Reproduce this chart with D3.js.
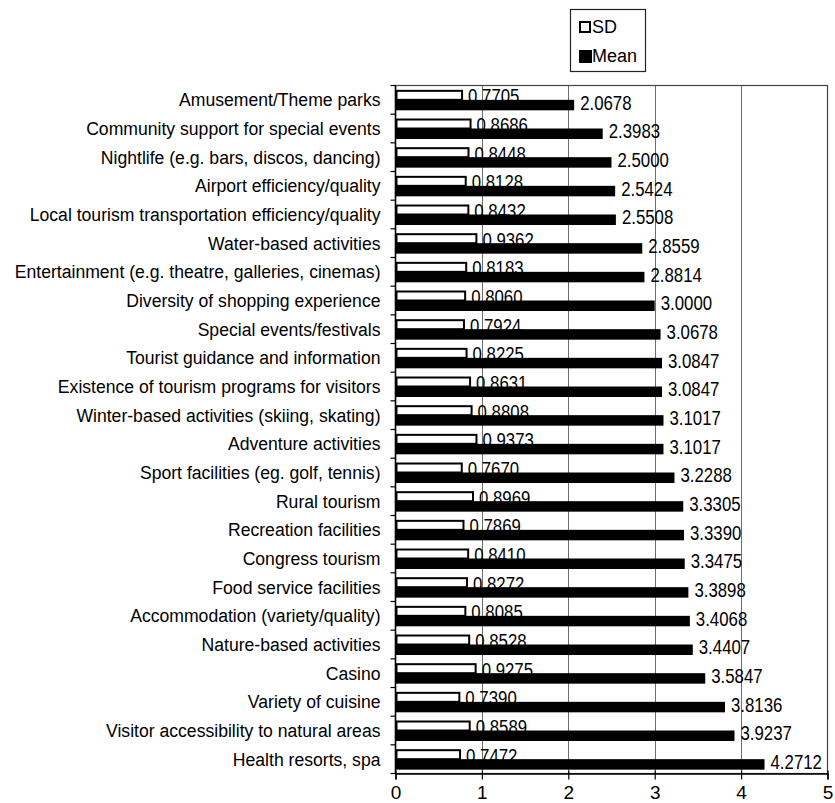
<!DOCTYPE html>
<html>
<head>
<meta charset="utf-8">
<script src="https://cdn.jsdelivr.net/npm/d3@7/dist/d3.min.js"></script>
<style>
  html, body { margin: 0; padding: 0; background: #fff; }
  svg { display: block; }
  text { font-family: "Liberation Sans", Arial, sans-serif; fill: #000; }
</style>
</head>
<body>
<svg id="chart" width="835" height="803"></svg>
<script>
// Destination attributes, top to bottom
const categories = [
  "Amusement/Theme parks",
  "Community support for special events",
  "Nightlife (e.g. bars, discos, dancing)",
  "Airport efficiency/quality",
  "Local tourism transportation efficiency/quality",
  "Water-based activities",
  "Entertainment (e.g. theatre, galleries, cinemas)",
  "Diversity of shopping experience",
  "Special events/festivals",
  "Tourist guidance and information",
  "Existence of tourism programs for visitors",
  "Winter-based activities (skiing, skating)",
  "Adventure activities",
  "Sport facilities (eg. golf, tennis)",
  "Rural tourism",
  "Recreation facilities",
  "Congress tourism",
  "Food service facilities",
  "Accommodation (variety/quality)",
  "Nature-based activities",
  "Casino",
  "Variety of cuisine",
  "Visitor accessibility to natural areas",
  "Health resorts, spa"
];

const sdValues = [
  0.7705, 0.8686, 0.8448, 0.8128, 0.8432, 0.9362, 0.8183, 0.8060,
  0.7924, 0.8225, 0.8631, 0.8808, 0.9373, 0.7670, 0.8969, 0.7869,
  0.8410, 0.8272, 0.8085, 0.8528, 0.9275, 0.7390, 0.8589, 0.7472
];

const meanValues = [
  2.0678, 2.3983, 2.5000, 2.5424, 2.5508, 2.8559, 2.8814, 3.0000,
  3.0678, 3.0847, 3.0847, 3.1017, 3.1017, 3.2288, 3.3305, 3.3390,
  3.3475, 3.3898, 3.4068, 3.4407, 3.5847, 3.8136, 3.9237, 4.2712
];

const xTicks = [0, 1, 2, 3, 4, 5];
const seriesNames = ["SD", "Mean"];

const rows = categories.map((c, i) => ({ cat: c, sd: sdValues[i], mean: meanValues[i] }));

const svg = d3.select("#chart");
const plot = { left: 395.5, right: 827.5, top: 85.5, bottom: 773.5 };

const x = d3.scaleLinear().domain([0, 5]).range([plot.left, plot.right]);
const y = d3.scaleBand().domain(categories).range([plot.top, plot.bottom]).padding(0);
const sub = d3.scaleBand().domain(["sd", "mean"]).range([0, y.bandwidth()])
  .paddingInner(0).paddingOuter(0.435);

// vertical gridlines
svg.append("g")
  .selectAll("line")
  .data(xTicks.slice(1, -1))
  .join("line")
  .attr("x1", d => Math.round(x(d)) + 0.5)
  .attr("x2", d => Math.round(x(d)) + 0.5)
  .attr("y1", plot.top)
  .attr("y2", plot.bottom)
  .attr("stroke", "#6e6e6e")
  .attr("stroke-width", 1);

// plot frame
svg.append("rect")
  .attr("x", plot.left)
  .attr("y", plot.top)
  .attr("width", plot.right - plot.left)
  .attr("height", plot.bottom - plot.top)
  .attr("fill", "none")
  .attr("stroke", "#444")
  .attr("stroke-width", 1.2);

const valueFmt = d3.format(".4f");
const narrow = "scale(0.82,1)";

// SD bars (outlined)
const g = svg.append("g");
g.selectAll("rect.sd")
  .data(rows)
  .join("rect")
  .attr("class", "sd")
  .attr("x", x(0) + 1)
  .attr("y", d => y(d.cat) + sub("sd") + 1)
  .attr("width", d => x(d.sd) - x(0) - 1)
  .attr("height", sub.bandwidth() - 1)
  .attr("fill", "#fff")
  .attr("stroke", "#000")
  .attr("stroke-width", 2);

// SD value labels (partly hidden beneath the mean bars)
g.selectAll("text.sdlab")
  .data(rows)
  .join("text")
  .attr("class", "sdlab")
  .attr("transform", d => `translate(${x(d.sd) + 6},${y(d.cat) + sub("mean") + 3.5}) ${narrow}`)
  .attr("font-size", 20.5)
  .text(d => valueFmt(d.sd));

// Mean bars (solid)
g.selectAll("rect.mean")
  .data(rows)
  .join("rect")
  .attr("class", "mean")
  .attr("x", x(0))
  .attr("y", d => y(d.cat) + sub("mean"))
  .attr("width", d => x(d.mean) - x(0))
  .attr("height", sub.bandwidth() + 0.5)
  .attr("fill", "#000");

// Mean value labels
g.selectAll("text.meanlab")
  .data(rows)
  .join("text")
  .attr("class", "meanlab")
  .attr("transform", d => `translate(${x(d.mean) + 6},${y(d.cat) + sub("mean") + sub.bandwidth()}) ${narrow}`)
  .attr("font-size", 20.5)
  .text(d => valueFmt(d.mean));

// category axis
const yAxis = svg.append("g")
  .attr("transform", `translate(${plot.left},0)`);
yAxis.append("line")
  .attr("x1", 0).attr("x2", 0)
  .attr("y1", plot.top).attr("y2", plot.bottom)
  .attr("stroke", "#000").attr("stroke-width", 1.5);
yAxis.selectAll("line.tick")
  .data(d3.range(categories.length + 1))
  .join("line")
  .attr("class", "tick")
  .attr("x1", -5).attr("x2", 0)
  .attr("y1", i => plot.top + i * y.step())
  .attr("y2", i => plot.top + i * y.step())
  .attr("stroke", "#000").attr("stroke-width", 1.2);
yAxis.selectAll("text")
  .data(categories)
  .join("text")
  .attr("x", -15)
  .attr("y", d => y(d) + y.bandwidth() / 2)
  .attr("dy", "0.36em")
  .attr("text-anchor", "end")
  .attr("font-size", 17.6)
  .text(d => d);

// value axis
const xAxis = svg.append("g")
  .attr("transform", `translate(0,${plot.bottom})`)
  .call(d3.axisBottom(x).tickValues(xTicks).tickSize(6).tickPadding(6).tickFormat(d3.format("d")));
xAxis.select(".domain").attr("stroke", "#000").attr("stroke-width", 1.5);
xAxis.selectAll(".tick line").attr("stroke", "#000").attr("stroke-width", 1.2).attr("y1", -3);
xAxis.selectAll(".tick text")
  .attr("font-size", 19)
  .attr("font-family", "'Liberation Sans', Arial, sans-serif")
  .attr("fill", "#000");

// legend
const legend = svg.append("g");
legend.append("rect")
  .attr("x", 570.5).attr("y", 9.5)
  .attr("width", 75).attr("height", 62)
  .attr("fill", "#fff")
  .attr("stroke", "#222").attr("stroke-width", 1.2);
const legendRows = legend.selectAll("g.item")
  .data(seriesNames)
  .join("g")
  .attr("class", "item")
  .attr("transform", (d, i) => `translate(579,${21 + i * 29})`);
legendRows.append("rect")
  .attr("x", d => d === "SD" ? 1 : 0)
  .attr("y", d => d === "SD" ? 1 : 0)
  .attr("width", d => d === "SD" ? 10 : 13)
  .attr("height", d => d === "SD" ? 10 : 13)
  .attr("fill", d => d === "SD" ? "#fff" : "#000")
  .attr("stroke", "#000")
  .attr("stroke-width", d => d === "SD" ? 2 : 0);
legendRows.append("text")
  .attr("x", 13)
  .attr("y", 12)
  .attr("font-size", 18)
  .text(d => d);
</script>
</body>
</html>
